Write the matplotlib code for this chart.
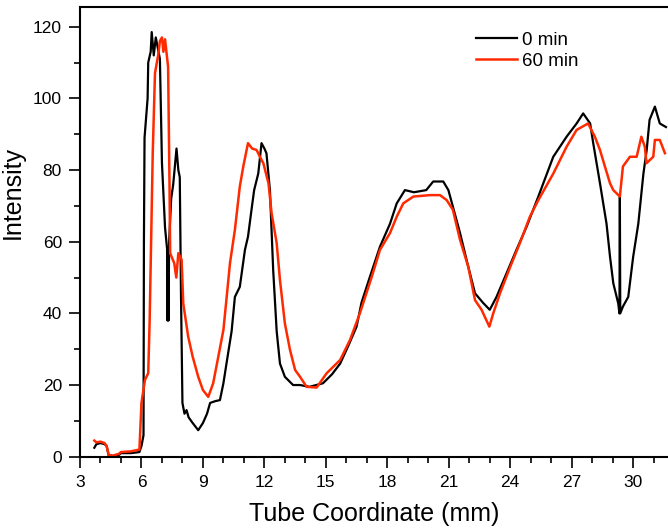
import matplotlib
matplotlib.use("Agg")
import matplotlib.pyplot as plt
import numpy as np

plt.rcParams['font.family'] = ['Liberation Sans', 'DejaVu Sans']

# 0 min profile
x0 = [3.7, 3.8, 4.0, 4.2, 4.3, 4.4, 4.6, 4.9, 5.0, 5.5, 5.9, 6.0, 6.1, 6.12, 6.15,
      6.3, 6.33, 6.45, 6.5, 6.6, 6.7, 6.8, 6.9, 7.0, 7.15, 7.25, 7.27, 7.3, 7.32,
      7.35, 7.45, 7.55, 7.63, 7.71, 7.8, 7.87, 7.93, 8.0, 8.1, 8.2, 8.3, 8.5, 8.77,
      9.0, 9.2, 9.35, 9.6, 9.83, 10.0, 10.15, 10.4, 10.56, 10.8, 11.05, 11.2, 11.35,
      11.5, 11.7, 11.86, 12.0, 12.1, 12.27, 12.43, 12.6, 12.76, 13.0, 13.4, 13.74,
      14.2, 14.86, 15.3, 15.7, 16.1, 16.5, 16.74, 17.15, 17.64, 18.13, 18.46, 18.86,
      19.3, 19.9, 20.24, 20.73, 20.98, 21.2, 21.55, 21.87, 22.28, 22.68, 23.0, 23.33,
      23.82, 24.3, 24.8, 25.37, 26.1, 26.75, 27.24, 27.56, 27.9, 28.05, 28.38, 28.7,
      28.87, 29.03, 29.27, 29.33, 29.35, 29.37, 29.5, 29.76, 30.0, 30.25, 30.5,
      30.66, 30.8, 31.06, 31.3, 31.6]
y0 = [2.5, 3.5, 3.8, 3.5, 3.0, 0.3, 0.2, 0.5, 1.0, 1.0, 1.3, 3.0, 6.0, 60.0, 89.0,
      100.0, 110.0, 113.0, 118.5, 112.0, 117.0, 114.0, 111.0, 82.0, 64.0, 58.0, 38.0,
      58.0, 38.0, 60.0, 72.0, 76.0, 81.0, 86.0, 80.0, 78.0, 45.0, 15.0, 12.0, 13.0,
      11.0, 9.4, 7.4, 9.4, 12.0, 15.0, 15.5, 15.8, 20.5, 26.0, 35.0, 44.6, 47.4, 57.7,
      61.4, 68.0, 74.4, 79.0, 87.5, 86.0, 84.7, 74.4, 52.0, 35.0, 26.0, 22.3, 20.0,
      20.0, 19.5, 20.5, 23.0, 26.0, 31.0, 36.3, 43.0, 50.2, 58.6, 65.0, 70.7, 74.4,
      73.8, 74.4, 76.8, 76.8, 74.4, 69.8, 62.4, 54.9, 45.6, 42.9, 41.0, 44.6, 51.2,
      57.7, 64.2, 72.6, 83.7, 89.3, 93.0, 95.8, 93.0, 87.5, 76.3, 65.0, 55.8, 48.4,
      42.8, 40.0, 72.6, 40.0, 41.9, 44.6, 55.8, 65.0, 79.0, 85.6, 94.0, 97.7, 93.0,
      92.0]

# 60 min profile
x60 = [3.7, 3.8, 4.0, 4.2, 4.3, 4.4, 4.6, 4.9, 5.0, 5.5, 5.9, 6.0, 6.17, 6.33, 6.4,
       6.55, 6.66, 6.83, 6.9, 7.0, 7.07, 7.15, 7.3, 7.37, 7.4, 7.6, 7.7, 7.8, 7.96,
       8.04, 8.28, 8.5, 8.77, 9.0, 9.26, 9.5, 9.75, 10.0, 10.16, 10.32, 10.56, 10.8,
       10.97, 11.2, 11.4, 11.62, 11.78, 11.95, 12.2, 12.35, 12.6, 12.76, 13.0, 13.25,
       13.5, 13.74, 14.06, 14.55, 15.04, 15.7, 16.18, 16.66, 17.24, 17.64, 18.13,
       18.46, 18.78, 19.27, 20.08, 20.57, 20.9, 21.2, 21.55, 21.95, 22.28, 22.6, 22.98,
       23.17, 23.5, 24.0, 24.47, 24.96, 25.37, 26.1, 26.75, 27.24, 27.8, 28.13, 28.38,
       28.62, 28.87, 29.03, 29.35, 29.5, 29.84, 30.17, 30.4, 30.57, 30.65, 30.98,
       31.06, 31.3, 31.55]
y60 = [4.5, 4.0, 4.2, 3.8, 3.0, 0.5, 0.3, 0.8, 1.3, 1.5, 2.0, 15.0, 21.4, 23.3, 38.0,
       84.7, 107.0, 112.6, 116.0, 117.0, 113.0, 116.5, 108.8, 75.4, 56.8, 54.0, 50.0,
       56.8, 55.0, 42.8, 33.5, 27.9, 22.3, 18.6, 16.7, 20.5, 27.9, 35.4, 44.6, 54.0,
       63.3, 75.4, 81.0, 87.5, 86.0, 85.6, 83.7, 81.9, 76.3, 68.0, 59.6, 49.3, 37.2,
       29.8, 24.2, 22.3, 19.5, 19.3, 23.3, 27.0, 32.6, 40.0, 50.2, 57.7, 62.4, 67.0,
       70.7, 72.6, 73.0, 73.0, 71.6, 68.9, 60.5, 53.0, 43.7, 41.0, 36.3, 40.0, 45.6,
       53.0, 59.6, 67.0, 71.6, 79.0, 86.5, 91.2, 93.0, 89.3, 85.6, 81.0, 76.3, 74.4,
       72.6, 81.0, 83.7, 83.7, 89.3, 86.5, 81.9, 83.7, 88.4, 88.4, 84.7]

fig = plt.figure(figsize=(6.68, 5.31), dpi=100)
ax = fig.add_axes([80 / 668, 74.3 / 531, 588 / 668, 449.7 / 531])

ax.plot(x0, y0, color='black', lw=1.6, label='0 min')
ax.plot(x60, y60, color='#ff2a00', lw=1.8, label='60 min')

ax.set_xlim(3, 31.7)
ax.set_ylim(0, 125.5)
ax.set_xticks(np.arange(3, 31, 3))
ax.set_xticks(np.arange(3, 32, 1), minor=True)
ax.set_yticks(np.arange(0, 121, 20))
ax.set_yticks(np.arange(0, 125, 10), minor=True)

ax.spines['right'].set_visible(False)
for s in ['left', 'bottom', 'top']:
    ax.spines[s].set_linewidth(1.5)
ax.tick_params(which='major', direction='out', length=8, width=1.2,
               labelsize=12.5, pad=5)
ax.tick_params(which='minor', direction='out', length=4.5, width=1.2)
ax.tick_params(top=False, right=False, which='both')

ax.set_xlabel('Tube Coordinate (mm)', fontsize=18, labelpad=9)
ax.set_ylabel('Intensity', fontsize=18)
ax.yaxis.set_label_coords(-0.094, 0.587)

ax.legend(loc='upper left', bbox_to_anchor=(0.66, 0.962), frameon=False,
          fontsize=13.5, handlelength=2.2, handletextpad=0.3, labelspacing=0.22,
          borderaxespad=0)

fig.savefig('out.png', dpi=100)
